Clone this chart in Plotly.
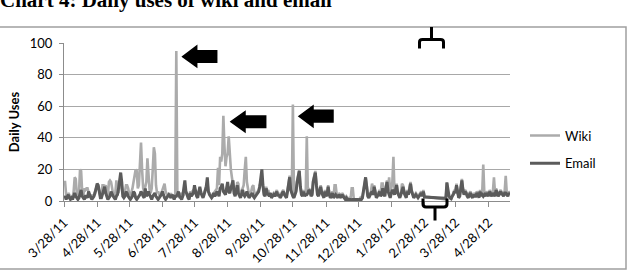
import plotly.graph_objects as go
import pandas as pd

# ---------------- data (daily values) ----------------
start_date = "2011-03-28"
n_days = 418

wiki = [
    12, 12, 4, 2, 5, 4, 1,
    3, 2, 6, 15, 14, 4, 2,
    5, 20, 19, 6, 3, 8, 7,
    8, 8, 5, 3, 2, 4, 3,
    4, 6, 9, 10, 9, 5, 3,
    4, 10, 10, 9, 10, 6, 3,
    12, 13, 12, 7, 4, 3, 5,
    13, 6, 5, 10, 12, 10, 4,
    5, 6, 10, 10, 8, 4, 3,
    5, 8, 12, 15, 20, 19, 8,
    10, 25, 37, 20, 8, 6, 10,
    12, 27, 15, 7, 5, 8, 20,
    34, 30, 10, 5, 6, 4, 3,
    5, 7, 9, 11, 6, 4, 3,
    4, 3, 5, 3, 4, 2, 3,
    95, 4, 3, 2, 5, 4, 3,
    4, 8, 6, 4, 3, 2, 6,
    5, 6, 7, 8, 6, 4, 3,
    6, 8, 6, 4, 3, 5, 7,
    10, 12, 6, 5, 4, 3, 4,
    5, 6, 7, 8, 21, 10, 28,
    25, 30, 54, 35, 22, 28, 30,
    41, 26, 20, 15, 10, 6, 5,
    6, 12, 11, 5, 4, 6, 8,
    10, 20, 28, 12, 6, 4, 5,
    6, 9, 10, 5, 4, 5, 6,
    7, 10, 12, 14, 10, 5, 4,
    9, 6, 7, 4, 5, 3, 4,
    5, 4, 6, 7, 4, 5, 3,
    4, 6, 7, 5, 4, 3, 7,
    13, 16, 8, 5, 61, 4, 5,
    7, 13, 17, 20, 10, 5, 4,
    7, 4, 5, 41, 6, 8, 7,
    4, 5, 13, 17, 19, 11, 5,
    4, 7, 10, 6, 4, 3, 7,
    4, 5, 10, 5, 3, 4, 6,
    3, 10, 10, 4, 3, 5, 4,
    3, 5, 4, 3, 2, 3, 2,
    1, 2, 2, 8, 8, 1, 1,
    1, 1, 1, 1, 2, 1, 2,
    7, 12, 15, 10, 4, 3, 5,
    6, 11, 8, 10, 6, 3, 4,
    5, 7, 4, 11, 11, 5, 4,
    9, 13, 8, 15, 6, 8, 12,
    28, 6, 8, 11, 6, 4, 3,
    5, 11, 10, 6, 4, 3, 7,
    5, 8, 12, 7, 4, 3, 4,
    5, 4, 3, 4, 5, 6, 4,
    7, 3, None, None, None, None, None,
    None, None, None, None, None, None, None,
    None, None, None, None, None, None, None,
    1, 12, 5, 3, 2, 1, 3,
    5, 7, 6, 11, 5, 3, 4,
    9, 14, 8, 5, 7, 6, 4,
    3, 5, 6, 4, 3, 5, 4,
    4, 6, 5, 3, 7, 4, 5,
    23, 5, 4, 6, 5, 4, 7,
    5, 4, 6, 15, 5, 8, 5,
    4, 5, 7, 6, 5, 4, 6,
    16, 5, 4, 6, 5,
]

email = [
    2, 3, 1, 3, 4, 2, 1,
    2, 1, 3, 5, 3, 2, 1,
    2, 4, 7, 3, 2, 1, 3,
    3, 2, 6, 4, 2, 1, 2,
    3, 5, 8, 11, 10, 4, 2,
    2, 4, 6, 9, 5, 2, 1,
    2, 3, 6, 4, 3, 2, 1,
    3, 4, 8, 15, 18, 12, 3,
    2, 3, 6, 5, 3, 2, 1,
    2, 3, 6, 5, 2, 1, 2,
    3, 4, 6, 5, 3, 2, 8,
    3, 4, 6, 4, 2, 1, 3,
    4, 5, 3, 2, 1, 2, 3,
    4, 6, 3, 2, 1, 2, 3,
    4, 3, 2, 4, 2, 1, 3,
    3, 4, 6, 3, 2, 1, 3,
    8, 13, 6, 3, 2, 1, 5,
    3, 4, 5, 10, 6, 3, 2,
    5, 9, 5, 3, 2, 4, 6,
    9, 15, 6, 4, 3, 2, 3,
    5, 3, 4, 6, 5, 3, 8,
    9, 11, 6, 5, 4, 8, 12,
    6, 5, 8, 10, 13, 5, 3,
    6, 10, 5, 3, 2, 4, 7,
    4, 3, 4, 6, 4, 2, 3,
    4, 5, 3, 2, 3, 4, 5,
    6, 9, 14, 20, 10, 4, 3,
    8, 5, 4, 3, 5, 2, 3,
    4, 3, 5, 6, 3, 4, 2,
    3, 5, 6, 4, 3, 2, 6,
    12, 15, 7, 4, 3, 2, 4,
    6, 12, 16, 19, 9, 4, 3,
    6, 3, 4, 4, 5, 7, 6,
    3, 4, 12, 16, 18, 10, 4,
    3, 6, 9, 5, 3, 2, 6,
    3, 4, 9, 4, 2, 3, 5,
    2, 3, 4, 3, 2, 4, 3,
    2, 4, 3, 2, 1, 2, 1,
    1, 1, 1, 0, 1, 1, 1,
    1, 1, 0, 1, 1, 1, 2,
    6, 12, 15, 9, 3, 2, 4,
    5, 6, 4, 9, 5, 2, 3,
    4, 6, 3, 4, 8, 4, 3,
    8, 12, 6, 3, 2, 5, 7,
    6, 4, 7, 10, 5, 3, 2,
    4, 6, 9, 5, 3, 2, 6,
    4, 7, 11, 6, 3, 2, 3,
    4, 3, 2, 3, 4, 5, 3,
    6, 2.5, None, None, None, None, None,
    None, None, None, None, None, None, None,
    None, None, None, None, None, None, None,
    1.7, 11.6, 5, 3, 2, 1.5, 3,
    4, 6, 5, 10, 4, 2, 3,
    8, 13, 7, 4, 6, 5, 3,
    2, 4, 5, 3, 2, 4, 3,
    3, 5, 4, 2, 6, 3, 4,
    3, 4, 3, 5, 4, 3, 6,
    4, 3, 5, 4, 3, 7, 4,
    3, 4, 6, 5, 4, 3, 5,
    5, 4, 3, 5, 4,
]

tick_labels = ["3/28/11", "4/28/11", "5/28/11", "6/28/11", "7/28/11",
               "8/28/11", "9/28/11", "10/28/11", "11/28/11", "12/28/11",
               "1/28/12", "2/28/12", "3/28/12", "4/28/12"]
y_ticks = [0, 20, 40, 60, 80, 100]

dates = pd.date_range(start_date, periods=n_days, freq="D")
tick_vals = [pd.to_datetime(t, format="%m/%d/%y") for t in tick_labels]

# ---------------- layout geometry (pixels) ----------------
W_FIG, H_FIG = 630, 271
L, R, T, B = 64, 510, 43, 201   # plot-area edges in pixels
PW, PH = R - L, B - T


def px(x, y):
    """pixel -> paper coordinates string for shape paths"""
    return f"{(x - L) / PW:.5f},{(B - y) / PH:.5f}"


def arrow_path(tip_x, tip_y, head_x, head_top, head_bot, tail_x, body_top, body_bot):
    return ("M " + px(tip_x, tip_y) + " L " + px(head_x, head_top) + " L " + px(head_x, body_top)
            + " L " + px(tail_x, body_top) + " L " + px(tail_x, body_bot) + " L " + px(head_x, body_bot)
            + " L " + px(head_x, head_bot) + " Z")


FONT = "Lato, 'Open Sans', sans-serif"

fig = go.Figure()
fig.add_trace(go.Scatter(x=dates, y=wiki, name="Wiki", mode="lines",
                         line=dict(color="#ababab", width=2.6), connectgaps=True,
                         legendgroup="w"))
fig.add_trace(go.Scatter(x=dates, y=email, name="Email", mode="lines",
                         line=dict(color="#5b5b5b", width=3), connectgaps=True,
                         legendgroup="e"))

shapes = []
# chart border
shapes.append(dict(type="rect", xref="paper", yref="paper",
                   x0=(-3 - L) / PW, x1=(626 - L) / PW, y0=(B - 269) / PH, y1=(B - 27) / PH,
                   line=dict(color="#a0a0a0", width=1.5), fillcolor="rgba(0,0,0,0)", layer="below"))
# arrows
for a in [(182.7, 56.7, 196.7, 46, 66.7, 216.7, 50.7, 62.3),
          (231, 121.7, 245, 111.7, 131.7, 265.7, 116, 127.5),
          (299, 116.3, 313, 106, 126.7, 333, 110.3, 122)]:
    shapes.append(dict(type="path", xref="paper", yref="paper", path=arrow_path(*a),
                       fillcolor="black", line=dict(color="black", width=1.5)))
# braces
upper = ("M " + px(419.5, 48.5) + " L " + px(419.5, 42) + " Q " + px(419.5, 39.5) + " " + px(422.5, 39.5)
         + " L " + px(440.5, 39.5) + " Q " + px(443.5, 39.5) + " " + px(443.5, 42) + " L " + px(443.5, 48.5)
         + " M " + px(431.5, 39.5) + " L " + px(431.5, 27))
lower = ("M " + px(423, 198.5) + " L " + px(423, 204) + " Q " + px(423, 207) + " " + px(426, 207)
         + " L " + px(444, 207) + " Q " + px(447, 207) + " " + px(447, 204) + " L " + px(447, 198.5)
         + " M " + px(435, 207) + " L " + px(435, 220.5))
for p in (upper, lower):
    shapes.append(dict(type="path", xref="paper", yref="paper", path=p,
                       line=dict(color="black", width=3)))

fig.update_layout(
    width=W_FIG, height=H_FIG,
    margin=dict(l=L, r=W_FIG - R, t=T, b=H_FIG - B, pad=0, autoexpand=False),
    paper_bgcolor="white", plot_bgcolor="white",
    title=dict(text="<b>Chart 4: Daily uses of wiki and email</b>",
               font=dict(family="'Liberation Serif', 'Times New Roman', serif", size=21, color="black"),
               x=0.0, xref="container", xanchor="left",
               y=(H_FIG - 0) / H_FIG, yref="container", yanchor="middle", pad=dict(t=0, b=0, l=0, r=0)),
    font=dict(family=FONT, size=13, color="black"),
    showlegend=True,
    legend=dict(x=(525 - L) / PW, xanchor="left", y=(B - 149.5) / PH, yanchor="middle",
                font=dict(family=FONT, size=13, color="black"), tracegroupgap=8,
                bgcolor="rgba(0,0,0,0)", borderwidth=0),
    shapes=shapes,
)
fig.update_xaxes(type="date", range=[dates[0], pd.Timestamp("2012-05-18")],
                 tickvals=tick_vals, ticktext=tick_labels, tickangle=-45, automargin=False,
                 showgrid=False, showline=True, linecolor="#8c8c8c", linewidth=1,
                 ticks="outside", ticklen=5, tickcolor="#8c8c8c", ticklabelstandoff=3,
                 tickfont=dict(family=FONT, size=13, color="black"), zeroline=False, fixedrange=True)
fig.update_yaxes(range=[0, 100], tickvals=y_ticks, showgrid=True, gridcolor="#a8a8a8", gridwidth=1,
                 showline=True, linecolor="#8c8c8c", linewidth=1, ticks="outside", ticklen=4,
                 tickcolor="#8c8c8c", zeroline=False, ticklabelstandoff=4, automargin=False,
                 tickfont=dict(family=FONT, size=13, color="black"),
                 title=dict(text="<b>Daily Uses</b>", font=dict(family=FONT, size=13, color="black"),
                            standoff=7))

fig.write_html("out.html")
